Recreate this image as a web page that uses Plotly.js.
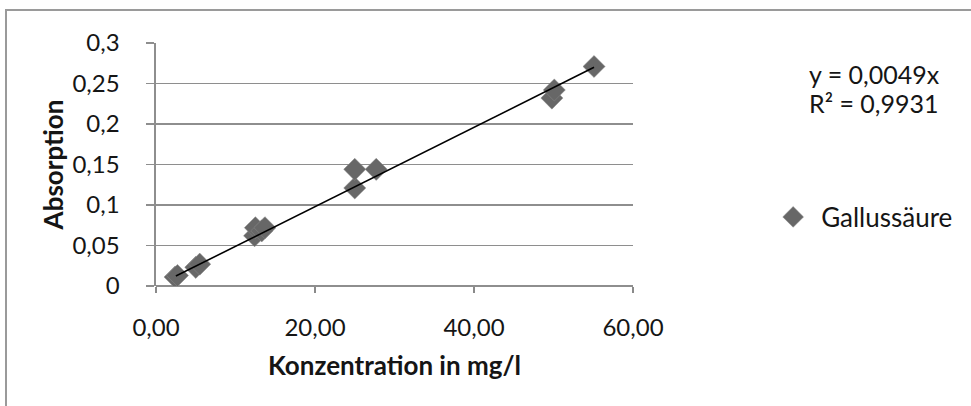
<!DOCTYPE html>
<html>
<head>
<meta charset="utf-8">
<script src="https://cdn.plot.ly/plotly-3.0.1.min.js"></script>
<style>
html,body{margin:0;padding:0;background:#fff;}
#frame{position:absolute;left:5px;top:9px;width:1200px;height:600px;border-left:2px solid #9a9a9a;border-top:2px solid #9a9a9a;pointer-events:none;}
#chart{position:absolute;left:0;top:0;width:971px;height:406px;}
</style>
</head>
<body>
<div id="frame"></div>
<div id="chart"></div>
<script>
// Data
const seriesName = "Gallussäure";
const concentration = [2.4, 2.7, 5.0, 5.5, 12.4, 12.5, 13.3, 13.7, 25.0, 25.0, 27.7, 49.8, 50.1, 55.1];
const absorption   = [0.011, 0.013, 0.023, 0.027, 0.062, 0.072, 0.068, 0.072, 0.121, 0.144, 0.144, 0.232, 0.242, 0.271];
const trendSlope = 0.0049;
const trendR2 = "0,9931";
const trendRange = [2.5, 55.1];
const xTicks = [0, 20, 40, 60];
const yTicks = [0, 0.05, 0.1, 0.15, 0.2, 0.25, 0.3];

const font = "Lato, 'Open Sans', sans-serif";
const txt = "#151515";
const trendY = trendRange.map(x => x * trendSlope);

const traces = [
  {
    x: concentration, y: absorption, type: "scatter", mode: "markers", name: seriesName,
    marker: {symbol: "diamond", size: 17, color: "#676767", line: {width: 0.5, color: "#8a8a8a"}},
    showlegend: true
  },
  {
    x: trendRange, y: trendY, type: "scatter", mode: "lines", name: "Trend",
    line: {color: "#000", width: 1.6}, showlegend: false
  }
];

const layout = {
  width: 971, height: 406,
  margin: {l: 156, r: 338, t: 43, b: 120},
  paper_bgcolor: "rgba(0,0,0,0)", plot_bgcolor: "rgba(0,0,0,0)",
  separators: ",.",
  font: {family: font, size: 24, color: txt},
  xaxis: {
    range: [0, 60], tickvals: xTicks, tickformat: ".2f",
    tickfont: {family: font, size: 24, color: txt},
    showgrid: false, zeroline: false,
    showline: false, ticks: "outside", ticklen: 6, tickcolor: "#8a8a8a", tickwidth: 1.5,
    ticklabelstandoff: 14,
    title: {text: "<b>Konzentration in mg/l</b>", font: {family: font, size: 26, color: txt}, standoff: 17},
    automargin: false
  },
  yaxis: {
    range: [0, 0.3], tickvals: yTicks,
    tickfont: {family: font, size: 24, color: txt},
    showgrid: true, gridcolor: "#8e8e8e", gridwidth: 1.6,
    zeroline: true, zerolinecolor: "#8e8e8e", zerolinewidth: 1.8,
    showline: true, linecolor: "#8e8e8e", linewidth: 1.6,
    ticks: "outside", ticklen: 8, tickcolor: "#8e8e8e", tickwidth: 1.5,
    ticklabelstandoff: 22,
    title: {text: "<b>Absorption</b>", font: {family: font, size: 26, color: txt}, standoff: 1},
    automargin: false
  },
  legend: {
    xref: "container", yref: "paper",
    x: 0.788, xanchor: "left", y: 0.284, yanchor: "middle",
    font: {family: font, size: 26, color: txt},
    bgcolor: "rgba(0,0,0,0)", itemwidth: 46
  },
  annotations: [
    {xref: "paper", yref: "paper", x: 1.364, y: 0.872, xanchor: "left", yanchor: "middle",
     text: "y = " + String(trendSlope).replace(".", ",") + "x", showarrow: false,
     font: {family: font, size: 25, color: txt}},
    {xref: "paper", yref: "paper", x: 1.364, y: 0.752, xanchor: "left", yanchor: "middle",
     text: "R² = " + trendR2, showarrow: false,
     font: {family: font, size: 25, color: txt}}
  ],
  showlegend: true
};

Plotly.newPlot("chart", traces, layout, {displayModeBar: false, staticPlot: true});
</script>
</body>
</html>
